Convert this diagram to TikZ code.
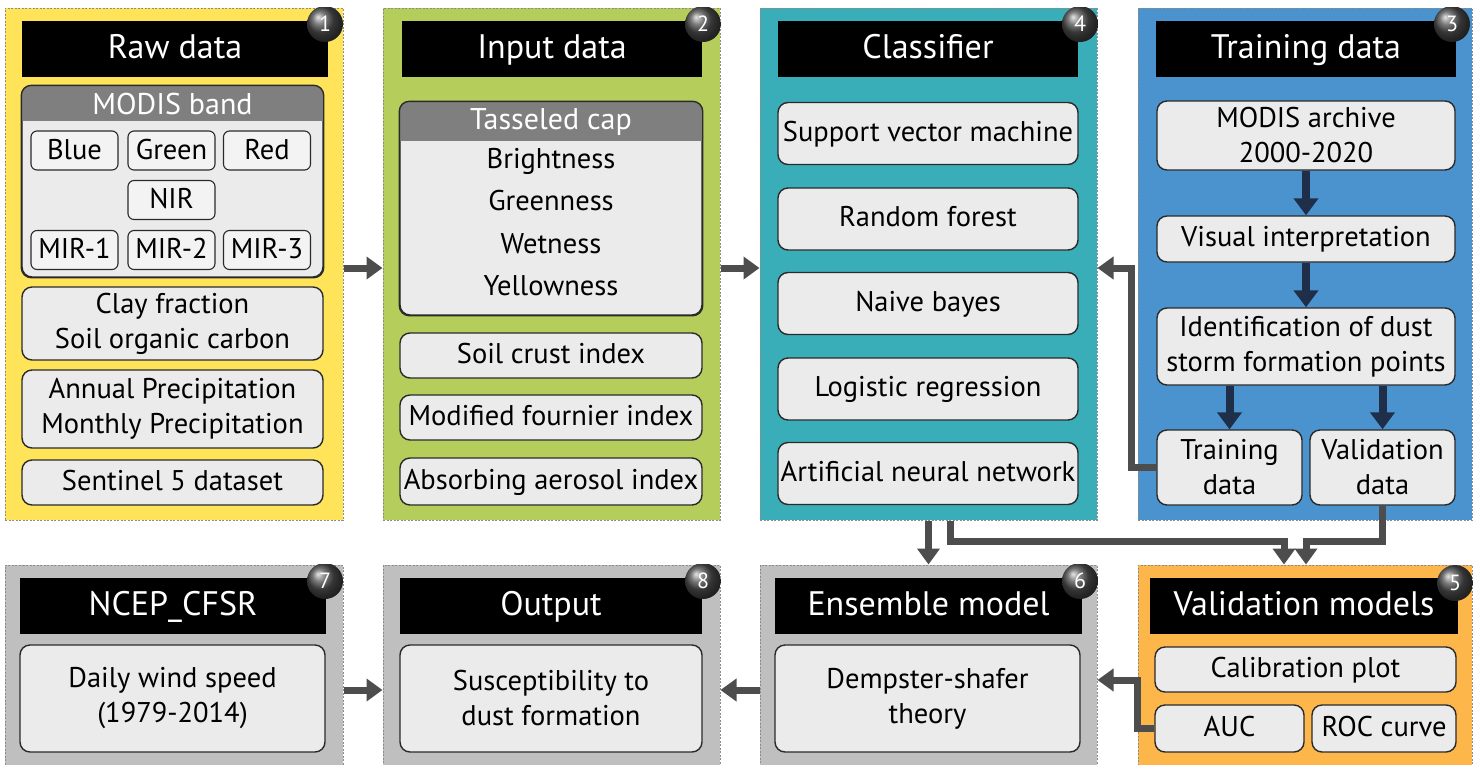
\documentclass[tikz,border=0pt]{standalone}
\usepackage{fontspec}
\setmainfont{PT Sans}
\usetikzlibrary{arrows.meta,calc}

\definecolor{yellowp}{HTML}{FFE45A}
\definecolor{greenp}{HTML}{B5CE5B}
\definecolor{tealp}{HTML}{39AEB8}
\definecolor{bluep}{HTML}{4A93CE}
\definecolor{orangep}{HTML}{FDB64A}
\definecolor{grayp}{HTML}{BFBFBF}
\definecolor{boxfill}{HTML}{EBEBEB}
\definecolor{capgray}{HTML}{7F7F7F}
\definecolor{arrowgray}{HTML}{4D4D4D}
\definecolor{navy}{HTML}{1F2F4A}
\definecolor{edge}{HTML}{2A2A2A}

\newcommand{\bodyfont}{\fontsize{28.5}{35}\selectfont}
\newcommand{\hdrfont}{\fontsize{34}{38}\selectfont}
\newcommand{\capfont}{\fontsize{30}{34}\selectfont}

\tikzset{
  panel/.style={draw=black!45, line width=1pt, dash pattern=on 2pt off 1.5pt,
    inner sep=0pt, minimum width=#1},
  hdr/.style={fill=black, text=white, font=\hdrfont, inner sep=0pt,
    text height=24pt, text depth=4pt, minimum height=56pt},
  box/.style={draw=edge, line width=1.4pt, fill=boxfill, rounded corners=10pt,
    font=\bodyfont, align=center, inner sep=0pt},
  onel/.style={text height=20pt, text depth=5pt},
  band/.style={draw=edge, line width=1.1pt, fill=boxfill!60!white, rounded corners=6pt,
    font=\bodyfont, inner sep=0pt, minimum width=87pt, minimum height=39pt,
    text height=20pt, text depth=3pt},
  item/.style={font=\bodyfont, inner sep=0pt, text height=20pt, text depth=6pt},
  captitle/.style={font=\capfont, text=white, inner sep=0pt},
  badge/.style={circle, ball color=black!70, text=white, inner sep=0pt,
    minimum size=36pt, font=\fontsize{22}{22}\selectfont},
  garr/.style={draw=arrowgray, line width=7pt,
    -{Triangle[width=22pt,length=16pt]}, color=arrowgray},
  narr/.style={draw=navy, line width=8pt,
    -{Triangle[width=24pt,length=17pt]}, color=navy},
}

\begin{document}
\begin{tikzpicture}[x=1pt, y=-1pt]
\useasboundingbox (0,0) rectangle (1473,764);
\fill[white] (0,0) rectangle (1473,764);

% ---------- panels ----------
\node[panel=338pt, fill=yellowp, minimum height=512pt] (p1) at (174,264) {};
\node[panel=337pt, fill=greenp,  minimum height=512pt] (p2) at (551.5,264) {};
\node[panel=337pt, fill=tealp,   minimum height=512pt] (p3) at (928.5,264) {};
\node[panel=334pt, fill=bluep,   minimum height=512pt] (p4) at (1305,264) {};
\node[panel=338pt, fill=grayp,   minimum height=215pt] (p7) at (174,672.5) {};
\node[panel=337pt, fill=grayp,   minimum height=215pt] (p8) at (551.5,672.5) {};
\node[panel=337pt, fill=grayp,   minimum height=215pt] (p6) at (928.5,672.5) {};
\node[panel=334pt, fill=orangep, minimum height=215pt] (p5) at (1305,672.5) {};

% ---------- headers ----------
\node[hdr, minimum width=306pt] (h1) at (175,48.5) {Raw data};
\node[hdr, minimum width=300pt] (h2) at (552,48.5) {Input data};
\node[hdr, minimum width=300pt] (h3) at (928,48.5) {Classifier};
\node[hdr, minimum width=300pt] (h4) at (1306,48.5) {Training data};
\node[hdr, minimum width=306pt] (h7) at (173,605.5) {NCEP\_CFSR};
\node[hdr, minimum width=302pt] (h8) at (551,605.5) {Output};
\node[hdr, minimum width=307pt] (h6) at (928.5,605.5) {Ensemble model};
\node[hdr, minimum width=308pt] (h5) at (1304,605.5) {Validation models};

% ---------- numbered badges, cut at the panel corner ----------
\foreach \p/\x/\y/\n in {p1/325/24/1, p2/703/24/2, p3/1080/24/4, p4/1452/24/3,
                        p7/325/581/7, p8/703/581/8, p6/1080/581/6, p5/1455/583/5} {
  \begin{scope}
    \clip (\p.south west) rectangle (\p.north east);
    \node[badge] (b\n) at (\x,\y) {\n};
  \end{scope}
}

% ---------- raw data ----------
\node[box, fill=boxfill, minimum width=301pt, minimum height=191pt] (g1) at (172.5,181.5) {};
\begin{scope}
  \clip[rounded corners=10pt] (g1.south west) rectangle (g1.north east);
  \fill[capgray] (g1.north west) rectangle ([yshift=-36pt]g1.north east);
\end{scope}
\draw[draw=edge, line width=1.4pt, rounded corners=10pt] (g1.south west) rectangle (g1.north east);
\node[captitle] (g1t) at (172.5,104) {MODIS band};
\node[band] (blue)  at (74.5,150.5) {Blue};
\node[band] (green) at (171.5,150.5) {Green};
\node[band] (red)   at (267,150.5) {Red};
\node[band] (nir)   at (171.5,200) {NIR};
\node[band] (mir1)  at (74.5,250) {MIR-1};
\node[band] (mir2)  at (171.5,250) {MIR-2};
\node[band] (mir3)  at (267,250) {MIR-3};
\node[box, minimum width=301pt, minimum height=73pt] (clay) at (172.5,323.5)
  {Clay fraction\\Soil organic carbon};
\node[box, minimum width=301pt, minimum height=78pt] (prec) at (172.5,409)
  {Annual Precipitation\\Monthly Precipitation};
\node[box, onel, minimum width=301pt, minimum height=45pt] (sent) at (172.5,482.5)
  {Sentinel 5 dataset};

% ---------- input data ----------
\node[box, minimum width=302pt, minimum height=213pt] (tc) at (551,208.5) {};
\begin{scope}
  \clip[rounded corners=10pt] (tc.south west) rectangle (tc.north east);
  \fill[capgray] (tc.north west) rectangle ([yshift=-40pt]tc.north east);
\end{scope}
\draw[draw=edge, line width=1.4pt, rounded corners=10pt] (tc.south west) rectangle (tc.north east);
\node[captitle] (tct) at (551,122) {Tasseled cap};
\node[item] (bri) at (551,161) {Brightness};
\node[item] (gre) at (551,203) {Greenness};
\node[item] (wet) at (551,246) {Wetness};
\node[item] (yel) at (551,288) {Yellowness};
\node[box, onel, minimum width=302pt, minimum height=45pt] (sci) at (551,355.5) {Soil crust index};
\node[box, onel, minimum width=302pt, minimum height=45pt] (mfi) at (551,417.5) {Modified fournier index};
\node[box, onel, minimum width=302pt, minimum height=47pt] (aai) at (551,481.5) {Absorbing aerosol index};

% ---------- classifier ----------
\node[box, onel, minimum width=300pt, minimum height=62pt] (svm) at (928,133.5) {Support vector machine};
\node[box, onel, minimum width=300pt, minimum height=62pt] (rf)  at (928,219) {Random forest};
\node[box, onel, minimum width=300pt, minimum height=62pt] (nb)  at (928,303.5) {Naive bayes};
\node[box, onel, minimum width=300pt, minimum height=62pt] (lr)  at (928,389) {Logistic regression};
\node[box, onel, minimum width=300pt, minimum height=62pt] (ann) at (928,473.5) {Artificial neural network};

% ---------- training data ----------
\node[box, minimum width=298pt, minimum height=69pt] (ma) at (1306,135.5) {MODIS archive\\2000-2020};
\node[box, onel, minimum width=298pt, minimum height=46pt] (vi) at (1306,239) {Visual interpretation};
\node[box, minimum width=298pt, minimum height=77pt] (id) at (1306,346.5)
  {Identification of dust\\storm formation points};
\node[box, minimum width=145pt, minimum height=75pt] (td) at (1229.5,467.5) {Training\\data};
\node[box, minimum width=145pt, minimum height=75pt] (vd) at (1382.5,467.5) {Validation\\data};

\draw[narr] (ma.south) -- (vi.north);
\draw[narr] (vi.south) -- (id.north);
\draw[narr] (td.north |- id.south) -- (td.north);
\draw[narr] (vd.north |- id.south) -- (vd.north);

% ---------- bottom row ----------
\node[box, minimum width=305pt, minimum height=107pt] (ws) at (172.5,698.5)
  {Daily wind speed\\(1979-2014)};
\node[box, minimum width=302pt, minimum height=107pt] (out) at (551,698.5)
  {Susceptibility to\\dust formation};
\node[box, minimum width=305pt, minimum height=107pt] (ds) at (927.5,698.5)
  {Dempster-shafer\\theory};
\node[box, onel, minimum width=301pt, minimum height=45pt] (cal) at (1305.5,669.5) {Calibration plot};
\node[box, onel, minimum width=149pt, minimum height=47pt] (auc) at (1229.5,728.5) {AUC};
\node[box, onel, minimum width=144pt, minimum height=47pt] (roc) at (1384,728.5) {ROC curve};

% ---------- connectors between panels ----------
\draw[garr] ([yshift=-4pt]p1.east) -- ([yshift=-4pt]p2.west);
\draw[garr] ([yshift=-4pt]p2.east) -- ([yshift=-4pt]p3.west);
\draw[garr] (td.west) -- ++(-25,0) |- ([yshift=-4pt]p3.east);
\draw[garr] (p3.south) -- (p6.north);
\draw[garr] ([xshift=22pt]p3.south) -- ++(0,21) -| ([xshift=-21pt]p5.north);
\draw[garr] (vd.south) -- ++(0,35.5) -| ([xshift=1pt]p5.north);
\draw[garr] (auc.west) -- ++(-17,0) |- ([yshift=-7.5pt]p6.east);
\draw[garr] ([yshift=-17.5pt]p6.west) -- ([yshift=-17.5pt]p8.east);
\draw[garr] ([yshift=-17.5pt]p7.east) -- ([yshift=-17.5pt]p8.west);
\end{tikzpicture}
\end{document}
